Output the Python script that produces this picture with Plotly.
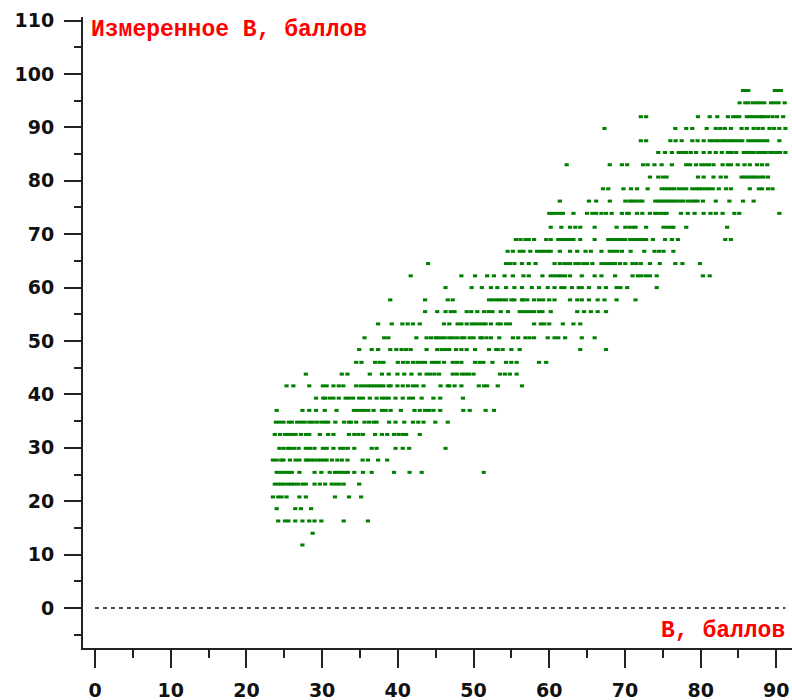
import plotly.graph_objects as go

row_values = [96.9, 94.6, 92.0, 89.8, 87.5, 85.3, 83.0, 80.7, 78.5, 76.2, 73.9, 71.3, 69.0, 66.8, 64.5, 62.2, 60.0, 57.7, 55.5, 53.2, 50.6, 48.4, 46.0, 43.8, 41.6, 39.3, 37.0, 34.8, 32.5, 29.9, 27.7, 25.4, 23.2, 20.8, 18.6, 16.3, 14.0, 11.8]
row_x = [
 [85.6,86.0,86.3,89.8,90.2,90.6],
 [85.15,85.9,86.3,86.9,87.45,87.9,88.4,89.3,89.8,90.3,91.1],
 [72.1,72.8,79.65,81.2,82.2,83.6,84.3,84.7,85.1,86.1,86.5,86.9,87.3,87.8,88.1,88.4,88.9,89.5,90.1,90.9],
 [67.3,76.65,78.1,78.9,80.8,82.0,82.6,83.2,84.0,85.4,86.1,87.0,87.6,88.2,89.1,89.7,90.4,91.2],
 [72.1,72.8,76.0,76.7,77.5,78.9,79.6,80.4,81.2,81.5,82.0,82.4,82.9,83.3,83.8,84.2,84.6,85.1,85.5,86.3,86.8,87.3,87.8,88.3,88.8,90.4],
 [74.4,75.3,76.2,77.1,77.6,78.1,78.7,79.4,80.4,81.2,82.0,82.8,83.6,84.1,84.7,85.7,86.2,86.5,87.0,87.6,88.1,88.6,89.2,89.5,90.0,90.5,91.2],
 [62.3,68.0,69.6,70.3,72.4,73.0,73.9,74.85,76.2,78.1,78.6,79.4,80.1,80.6,81.1,81.7,82.9,83.6,84.0,84.9,85.8,86.5,87.45,88.1,88.8],
 [73.3,74.4,75.0,75.5,79.65,80.4,81.7,82.65,83.35,85.4,85.8,86.2,86.6,87.0,87.4,87.9,88.3,88.9],
 [67.1,67.8,69.8,70.8,71.6,73.0,74.85,75.3,75.7,76.1,76.5,77.1,77.6,78.1,78.9,79.4,79.8,80.2,80.7,81.1,81.6,82.4,83.35,84.0,86.5,87.7,88.1,88.9,89.5],
 [61.4,65.25,66.2,68.0,70.05,70.6,71.0,71.4,71.9,72.3,74.0,74.4,74.8,75.2,75.6,76.0,76.4,76.8,77.3,77.7,78.3,78.8,79.2,79.6,80.3,82.0,83.8,85.6,87.0],
 [60.0,60.4,60.9,61.4,61.8,63.2,65.0,65.7,66.2,66.9,67.5,68.25,69.6,70.3,70.5,71.6,72.3,73.3,74.0,74.2,74.7,75.2,75.5,77.4,78.3,79.2,80.4,81.3,82.0,82.9,84.45,85.1,90.4],
 [60.2,61.6,62.75,63.45,64.1,66.0,68.9,70.05,70.6,71.1,71.4,72.8,75.1,75.6,76.1,76.4,78.1,83.5],
 [55.6,56.2,56.85,57.3,58.0,59.6,60.2,61.2,61.6,62.1,62.6,63.0,63.2,64.1,66.0,67.8,68.2,68.7,69.2,69.6,70.05,70.7,71.2,71.7,72.2,72.6,72.8,73.7,75.3,76.2,77.0,83.25,84.0],
 [54.5,55.2,56.1,56.6,57.5,58.4,58.9,59.3,59.8,60.2,61.4,62.75,63.7,64.8,65.5,66.9,68.0,68.5,69.0,69.6,70.75,72.55,73.9,74.5,75.1,76.4],
 [44.0,54.3,54.8,55.4,56.4,57.3,58.2,60.7,61.4,62.0,62.5,62.75,63.45,63.9,64.5,65.0,65.7,66.9,67.4,67.9,68.3,68.7,69.35,70.05,71.0,71.5,72.1,73.3,74.6,76.65,77.6,79.9],
 [41.7,48.4,50.2,51.8,52.7,54.1,55.2,56.6,57.3,59.1,60.2,60.7,61.2,61.6,62.1,62.75,64.3,66.0,66.9,68.7,71.0,71.7,72.2,72.8,73.3,74.2,80.3,81.2],
 [46.3,49.75,51.1,52.3,53.15,54.3,55.4,56.4,57.7,58.65,59.8,60.7,61.6,62.0,63.0,63.9,64.3,65.25,66.6,67.5,68.9,69.4,70.3,74.2],
 [39.0,43.6,46.6,47.25,52.05,52.5,53.0,53.4,53.8,54.3,55.0,55.4,56.4,56.6,57.1,58.0,58.65,59.2,60.0,60.7,62.75,63.7,64.3,65.25,66.4,67.3,68.9,71.4],
 [43.6,45.2,46.3,47.0,47.5,49.1,49.7,50.5,51.4,52.0,52.5,53.6,54.55,56.1,56.6,57.0,57.5,58.0,58.65,59.1,60.2,63.7,64.6,65.5,66.4,67.5],
 [37.4,39.2,40.6,41.3,42.0,42.9,46.1,46.8,47.9,48.4,49.1,49.75,50.2,50.7,51.2,51.6,52.3,53.2,53.6,54.3,54.8,58.0,58.9,59.35,60.0,61.8,63.2,64.1],
 [35.6,38.2,38.75,42.45,43.8,44.4,45.0,45.2,45.7,46.2,46.8,47.25,47.8,48.4,48.8,49.5,50.0,50.9,51.1,51.7,52.3,53.4,55.2,55.9,56.85,57.4,58.0,59.8,60.7,61.2,62.1,64.3,66.0],
 [34.9,36.55,37.4,39.0,39.8,40.5,41.1,41.7,43.8,45.2,45.8,46.3,46.8,47.7,48.4,49.1,50.2,52.05,53.0,53.2,53.85,55.0,56.1,64.1,67.5],
 [34.5,35.2,37.0,37.6,38.1,40.0,40.7,41.3,42.0,42.6,43.1,43.6,44.5,45.0,45.4,46.1,47.25,47.8,48.4,50.2,50.8,51.3,52.5,54.3,55.0,55.7,58.65,59.6],
 [27.85,32.6,33.35,36.3,37.9,38.8,39.95,40.85,41.8,42.9,43.8,44.3,44.85,45.45,47.25,47.8,48.45,48.9,49.4,50.0,53.5,54.15,54.8,55.7],
 [25.3,26.2,28.3,30.1,30.6,31.5,32.2,32.8,34.5,35.1,35.6,36.1,36.5,36.9,37.3,37.7,38.1,38.8,39.05,39.95,40.65,41.35,42.0,42.5,43.4,45.65,46.6,46.8,47.5,48.4,50.7,51.4,51.8,53.2,56.4],
 [29.2,30.15,30.4,31.0,31.5,32.2,33.1,33.55,34.1,34.9,35.4,36.3,37.2,37.9,38.35,38.8,39.7,40.65,41.5,42.0,43.15,44.7,45.6,48.6],
 [24.0,27.4,28.3,29.2,30.35,31.9,34.2,34.7,35.2,35.6,36.1,36.8,37.9,38.4,39.05,40.4,42.2,42.9,43.6,44.1,44.7,45.6,48.65,49.5,51.6,52.7],
 [23.9,24.4,24.9,25.6,26.0,26.7,27.2,27.7,28.3,28.75,29.3,29.9,30.4,30.8,31.75,32.9,33.55,33.8,34.5,35.6,36.2,36.8,37.2,38.85,39.7,40.85,42.0,42.7,43.4,44.95,46.6],
 [23.75,24.45,25.1,25.6,26.1,26.5,27.2,27.85,28.3,29.7,30.8,31.5,33.55,34.25,34.8,35.4,37.0,37.9,38.6,39.5,40.1,40.65,41.1,42.9],
 [24.35,24.9,25.5,25.75,26.3,26.9,27.85,28.4,29.0,30.1,30.6,31.5,32.4,32.85,33.4,34.25,36.55,37.2,39.7,40.65,41.5,46.3],
 [23.5,24.0,24.6,24.9,25.75,26.5,27.0,27.85,28.05,28.5,28.9,29.4,29.8,30.2,30.6,31.3,32.0,32.6,33.35,35.35,36.05,37.4,38.6],
 [24.0,24.5,25.0,25.5,26.0,27.0,29.0,29.9,31.0,31.7,32.0,32.5,33.0,33.4,34.25,35.4,36.55,39.5,41.55,43.15,51.35],
 [23.75,24.2,24.6,25.0,25.5,25.9,26.3,26.8,27.4,27.85,29.0,29.7,30.4,31.27,31.8,32.3,32.85,34.9],
 [23.5,24.2,24.65,25.3,27.0,27.85,31.7,33.55,35.15],
 [24.0,26.45,27.2,28.55],
 [24.2,25.1,25.55,26.45,27.4,28.3,29.0,29.9,32.85,36.05],
 [28.75],
 [27.4],
]
zero_line_x = [0, 91.2]
zero_line_y = [0, 0]
y_title = "Измеренное В, баллов"
x_title = "В, баллов"

xs, ys = [], []
for v, row in zip(row_values, row_x):
    for x in row:
        xs.append(x)
        ys.append(v)

TICK_FONT = dict(family="DejaVu Sans", size=19, color="#111111", weight="bold")
LABEL_FONT = dict(family="Liberation Mono", size=23, color="#ff0000", weight="bold")
AXIS = "#222222"

fig = go.Figure()
fig.add_trace(go.Scatter(x=zero_line_x, y=zero_line_y, mode="lines",
                         line=dict(color="#111111", width=1.5, dash="4px,4px"),
                         hoverinfo="skip"))
fig.add_trace(go.Scatter(x=xs, y=ys, mode="markers",
                         marker=dict(symbol="line-ew", size=3.0, color="#008000",
                                     line=dict(width=3, color="#008000"))))

fig.update_layout(
    width=792, height=700, autosize=False, showlegend=False,
    paper_bgcolor="white", plot_bgcolor="white",
    margin=dict(l=83, r=0, t=17, b=52),
    xaxis=dict(range=[-1.585, 92.07], dtick=10, tick0=0, ticks="outside", ticklen=18, tickwidth=1.5,
               tickcolor=AXIS, showline=True, linewidth=2, linecolor=AXIS, showgrid=False, zeroline=False,
               tickfont=TICK_FONT, ticklabelstandoff=6,
               minor=dict(dtick=5, tick0=0, ticks="outside", ticklen=8, tickwidth=1.5, tickcolor=AXIS, showgrid=False)),
    yaxis=dict(range=[-7.49, 110.67], dtick=10, tick0=0, ticks="outside", ticklen=17, tickwidth=1.5,
               tickcolor=AXIS, showline=True, linewidth=2, linecolor=AXIS, showgrid=False, zeroline=False,
               tickfont=TICK_FONT, ticklabelstandoff=6,
               minor=dict(dtick=5, tick0=0, ticks="outside", ticklen=7, tickwidth=1.5, tickcolor=AXIS, showgrid=False)),
    annotations=[
        dict(x=-0.53, y=108.2, xref="x", yref="y", text=y_title, showarrow=False,
             xanchor="left", yanchor="middle", font=LABEL_FONT, xshift=-2),
        dict(x=91.4, y=-4.3, xref="x", yref="y", text=x_title, showarrow=False,
             xanchor="right", yanchor="middle", font=LABEL_FONT),
    ],
)
fig.write_html("out.html", post_script="document.body.style.margin='0';",
               config=dict(displayModeBar=False))
